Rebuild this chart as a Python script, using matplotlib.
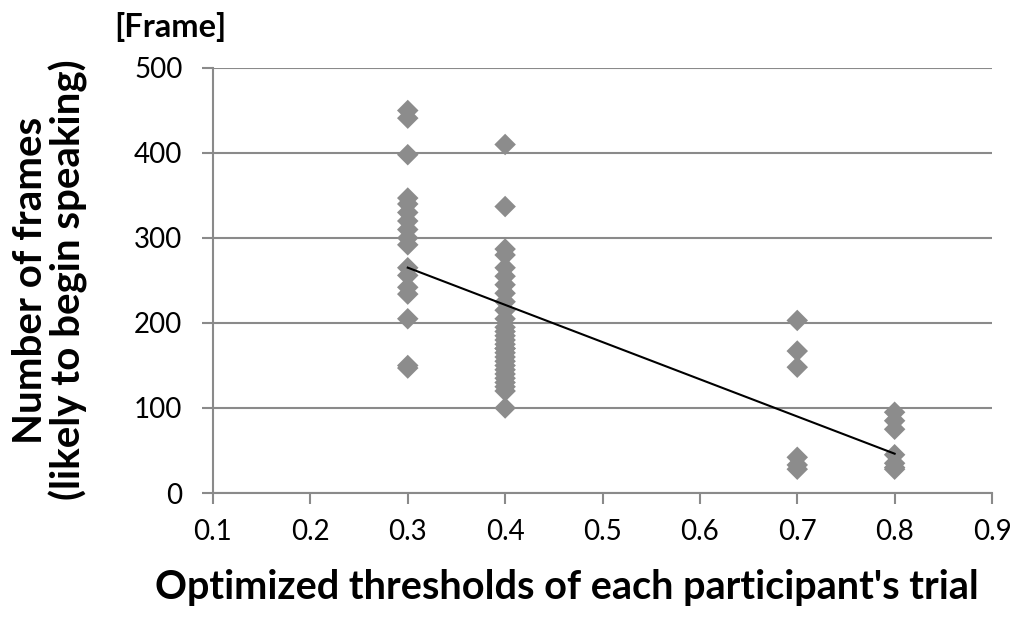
import numpy as np
import matplotlib.pyplot as plt

plt.rcParams['font.family'] = ['Lato', 'DejaVu Sans']

# thresholds and frame counts
x_03 = [0.3] * 17
y_03 = [450, 441, 398, 347, 340, 330, 320, 310, 300, 292, 265, 256, 242, 234, 205, 150, 147]
x_04 = [0.4] * 29
y_04 = [410, 337, 287, 280, 265, 255, 245, 235, 225, 215, 205, 195, 190,
        185, 180, 175, 170, 170, 165, 160, 155, 150, 145, 140, 135, 130, 125, 120, 100]
x_07 = [0.7] * 6
y_07 = [203, 167, 148, 42, 33, 28]
x_08 = [0.8] * 7
y_08 = [95, 85, 75, 45, 35, 30, 28]

x = np.array(x_03 + x_04 + x_07 + x_08)
y = np.array(y_03 + y_04 + y_07 + y_08)

xticks = [0.1, 0.2, 0.3, 0.4, 0.5, 0.6, 0.7, 0.8, 0.9]
yticks = [0, 100, 200, 300, 400, 500]

fig = plt.figure(figsize=(10.11, 6.19), dpi=100)
ax = fig.add_axes([213 / 1011, 1 - 493 / 619, (992 - 213) / 1011, (493 - 68) / 619])

ax.scatter(x, y, marker='D', s=120, color='#8c8c8c', edgecolors='none', zorder=3)

# linear trend line
k, b = np.polyfit(x, y, 1)
xl = np.array([x.min(), x.max()])
ax.plot(xl, k * xl + b, color='black', lw=1.5, zorder=4)

ax.set_xlim(0.1, 0.9)
ax.set_ylim(0, 500)
ax.set_xticks(xticks)
ax.set_yticks(yticks)
ax.set_xticklabels([f'{t:.1f}' for t in xticks])
ax.grid(axis='y', color='#8a8a8a', lw=1.5)
ax.set_axisbelow(True)
for s in ['top', 'right']:
    ax.spines[s].set_visible(False)
for s in ['left', 'bottom']:
    ax.spines[s].set_color('#8a8a8a')
    ax.spines[s].set_linewidth(1.5)
ax.tick_params(axis='both', color='#8a8a8a', width=1.5, length=8, labelsize=20)
ax.tick_params(axis='x', pad=11)
ax.tick_params(axis='y', pad=14)

fig.text(567 / 1011, 1 - 588 / 619, "Optimized thresholds of each participant's trial",
         fontsize=28.5, fontweight='bold', ha='center', va='center')
fig.text(50 / 1011, 1 - 280 / 619, "Number of frames\n(likely to begin speaking)",
         fontsize=29, fontweight='bold', ha='center', va='center', rotation=90,
         linespacing=1.0)
fig.text(170 / 1011, 1 - 27 / 619, '[Frame]', fontsize=23.5, fontweight='bold',
         ha='center', va='center')

fig.savefig('out.png', dpi=100)
